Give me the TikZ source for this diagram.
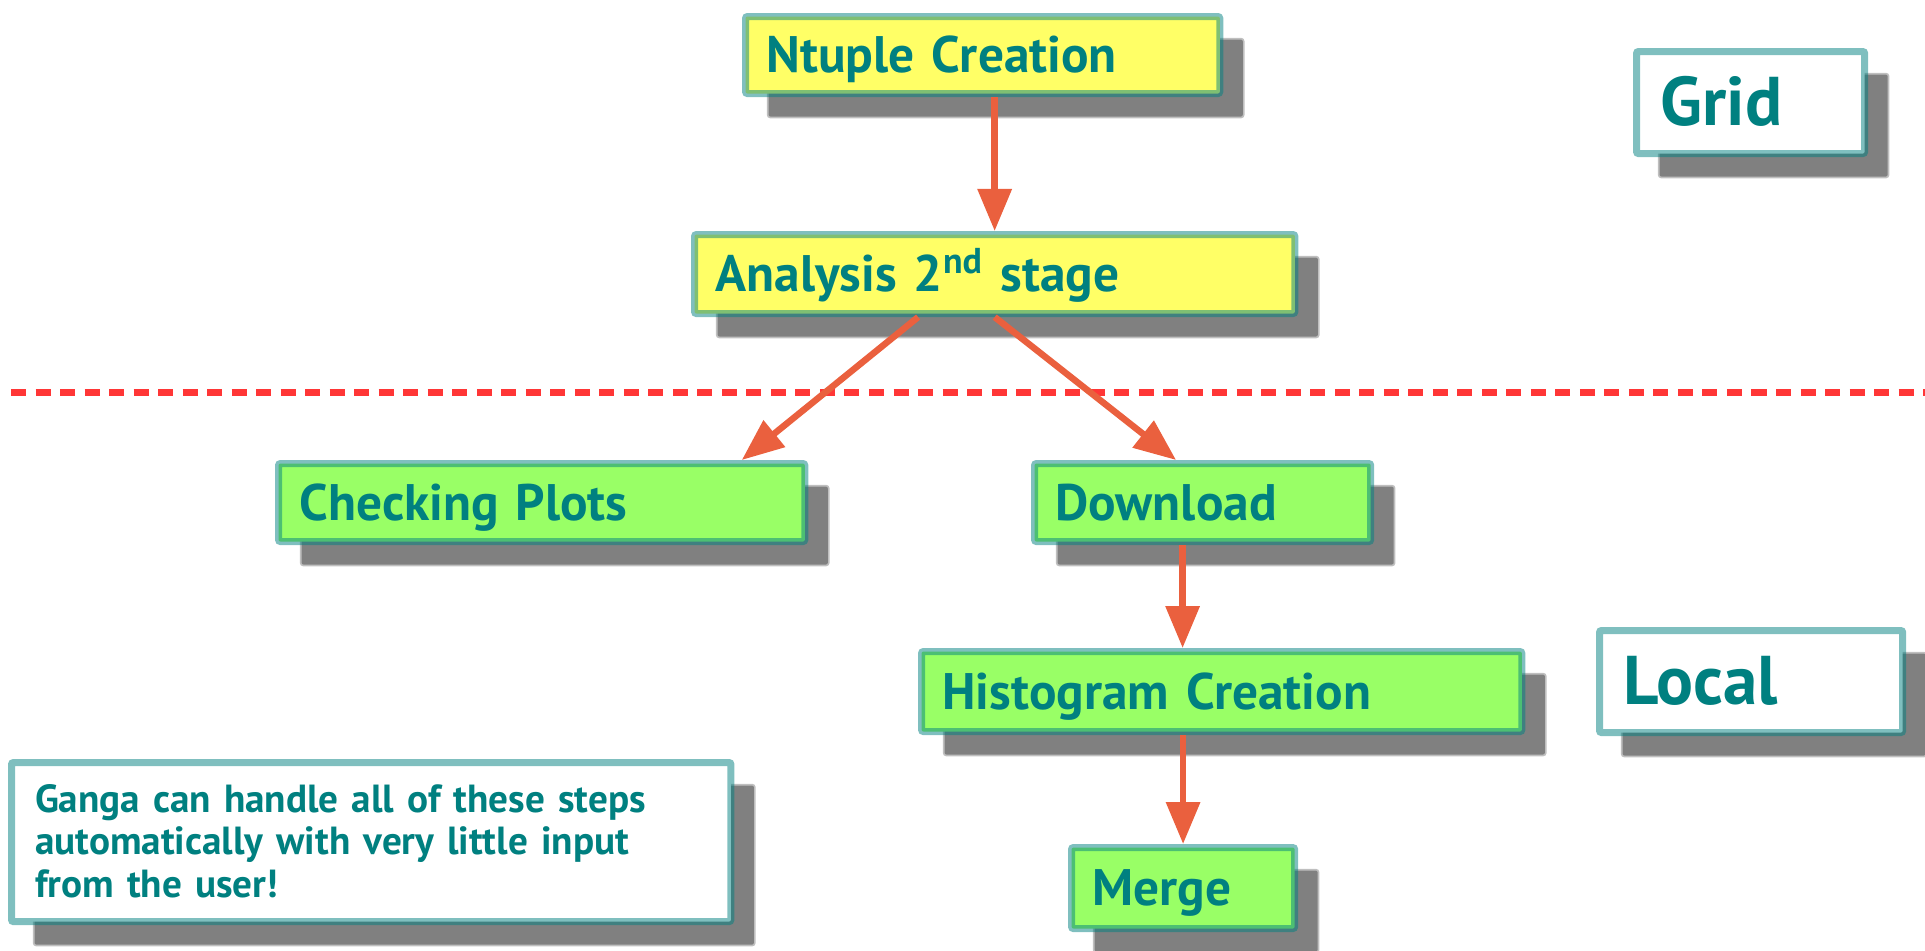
\documentclass[tikz,border=0pt]{standalone}
\usepackage{fontspec}
\newfontfamily\stagefont{PT Sans}
\usepackage{tikz}
\usetikzlibrary{arrows.meta,shadows}

\definecolor{stageyellow}{HTML}{FFFF66}
\definecolor{stagegreen}{HTML}{99FF66}
\definecolor{flowred}{HTML}{EA603E}
\definecolor{splitred}{HTML}{FF3636}

\tikzset{
  box/.style={draw=teal, draw opacity=.5, line width=0.07cm, rounded corners=0.02cm,
    text=teal, anchor=north west, align=left, inner xsep=0.21cm, text depth=0pt,
    drop shadow={shadow xshift=0.23cm, shadow yshift=-0.23cm, opacity=1,
      fill=gray, draw=gray, draw opacity=.5, line width=0.035cm}},
  stage/.style={box, font=\stagefont\bfseries\fontsize{14.6}{17}\selectfont, text height=0.35cm},
  where/.style={box, fill=white, inner xsep=0.24cm,
    font=\stagefont\bfseries\fontsize{19.6}{22}\selectfont, text height=0.46cm},
  flow/.style={draw=flowred, line width=0.065cm, -{Triangle[length=0.42cm, width=0.33cm]}}
}

\begin{document}
\begin{tikzpicture}[x=0.01cm, y=-0.01cm]
    \useasboundingbox (0,0) rectangle (1925,950);

    \draw[splitred, line width=0.07cm, dash pattern=on 0.15cm off 0.095cm] (11,392) -- (1925,392);

    \node[stage, fill=stageyellow, text width=4.32cm, minimum height=0.77cm] (ntuple) at (742,13) {Ntuple Creation};
    \node[stage, fill=stageyellow, text width=5.58cm, minimum height=0.79cm] (analysis) at (691,231) {Analysis 2\textsuperscript{nd} stage};
    \node[stage, fill=stagegreen, text width=4.84cm, minimum height=0.78cm] (checking) at (275,460) {Checking Plots};
    \node[stage, fill=stagegreen, text width=2.94cm, minimum height=0.78cm] (download) at (1031,460) {Download};
    \node[stage, fill=stagegreen, text width=5.58cm, minimum height=0.80cm] (histo) at (918,648) {Histogram Creation};
    \node[stage, fill=stagegreen, text width=1.81cm, minimum height=0.81cm] (merge) at (1068,844) {Merge};

    \node[where, text width=1.80cm, minimum height=1.02cm] (grid) at (1633,48) {Grid};
    \node[where, text width=2.55cm, minimum height=1.02cm] (local) at (1596,627) {Local};

    \node[box, fill=white, inner xsep=0.235cm, text width=6.72cm, minimum height=1.59cm,
      font=\stagefont\bfseries\fontsize{11.15}{12.2}\selectfont, text height=0.26cm, text depth=0.86cm] (ganga) at (8,759)
      {Ganga can handle all of these steps\\automatically with very little input\\from the user!};

    \draw[flow] ([xshift=0.12cm]ntuple.south) -- ([xshift=0.12cm]ntuple.south |- analysis.north);
    \draw[flow] ([xshift=-0.765cm]analysis.south) -- ([xshift=2cm]checking.north);
    \draw[flow] (analysis.south) -- ([xshift=-0.265cm]download.north);
    \draw[flow] ([xshift=-0.2cm]download.south) -- ([xshift=-0.2cm]download.south |- histo.north);
    \draw[flow] (merge.north |- histo.south) -- (merge.north);
\end{tikzpicture}
\end{document}
